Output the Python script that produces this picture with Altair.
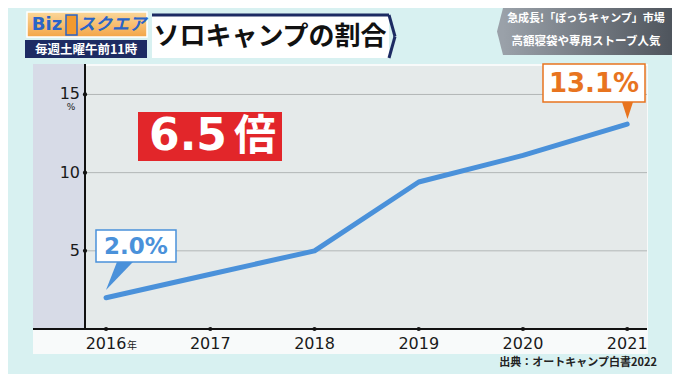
import altair as alt
import pandas as pd

# ---- data ----
years = [2016, 2017, 2018, 2019, 2020, 2021]
ratio = [2.0, 3.5, 5.0, 9.4, 11.1, 13.1]
y_ticks = [5, 10, 15]
year_suffix = "年"
y_unit = "%"
title_text = "ソロキャンプの割合"
multiple_text = "6.5"
multiple_suffix = "倍"
logo_a = "Biz"
logo_b = "スクエア"
schedule_text = "毎週土曜午前11時"
headline_1 = "急成長!「ぼっちキャンプ」市場"
headline_2 = "高額寝袋や専用ストーブ人気"
source_text = "出典：オートキャンプ白書2022"

# ---- layout (page pixel helpers) ----
PL, PT = 85, 66
W, H = 562, 263


def X(px):
    return px - PL


def Y(py):
    return py - PT


JP = "Noto Sans CJK JP"
NUM = "DejaVu Sans"
BLUE = "#4a91da"
ORANGE = "#e8741f"
NAVY = "#1d2b63"

one = pd.DataFrame({"k": [0]})


def box(x1, y1, x2, y2, **kw):
    return alt.Chart(one).mark_rect(**kw).encode(
        x=alt.value(X(x1)), x2=alt.value(X(x2)),
        y=alt.value(Y(y1)), y2=alt.value(Y(y2)))


def label(txt, px, py, **kw):
    return alt.Chart(one).mark_text(text=txt, baseline="middle", **kw).encode(
        x=alt.value(X(px)), y=alt.value(Y(py)))


def seg(x1, y1, x2, y2, **kw):
    return alt.Chart(one).mark_rule(**kw).encode(
        x=alt.value(X(x1)), x2=alt.value(X(x2)),
        y=alt.value(Y(y1)), y2=alt.value(Y(y2)))


def tri(path, cx, cy, size, color):
    return alt.Chart(one).mark_point(shape=path, filled=True, size=size,
                                     color=color, opacity=1, strokeWidth=0).encode(
        x=alt.value(X(cx)), y=alt.value(Y(cy)))


df = pd.DataFrame({"year": years, "ratio": ratio})
df_y = pd.DataFrame({"ratio": y_ticks})

xs = alt.X("year:Q", scale=alt.Scale(domain=[2015.798, 2021.19], nice=False, zero=False), axis=None)
ys = alt.Y("ratio:Q", scale=alt.Scale(domain=[0, 16.82], nice=False, zero=True), axis=None)

# background panels
card = box(33, 64, 648, 354, fill="#f8fafa")
band = box(33, 64, PL, 329, fill="#d7dbe7")
plotbg = box(PL, PT, 647, 329, fill="#e5eaea")

grid = alt.Chart(df_y).mark_rule(color="#b2b6b6", strokeWidth=1).encode(
    y=ys, x=alt.value(0), x2=alt.value(W))

yaxis = seg(PL, 64, PL, 329, color="#111", strokeWidth=2)
xaxis = alt.Chart(one).mark_rule(color="#111", strokeWidth=2).encode(
    x=alt.value(X(33)), x2=alt.value(X(647)), y=alt.value(H))

ydots = alt.Chart(df_y).mark_circle(size=18, color="#111", opacity=1).encode(
    y=ys, x=alt.value(0))
xdots = alt.Chart(df).mark_circle(size=18, color="#111", opacity=1).encode(
    x=xs, y=alt.value(H))

ylabels = alt.Chart(df_y).mark_text(align="right", baseline="middle", font=NUM,
                                    fontSize=16, color="#1a1a1a").encode(
    y=ys, x=alt.value(-5), text=alt.Text("ratio:Q", format="d"))
yunit = label(y_unit, 71, 107, font=NUM, fontSize=9, color="#1a1a1a")

xlabels = alt.Chart(df).mark_text(align="center", baseline="middle", font=NUM,
                                  fontSize=16, color="#1a1a1a").encode(
    x=xs, y=alt.value(H + 15), text=alt.Text("year:Q", format="d"))
xsuffix = alt.Chart(df.iloc[:1]).mark_text(align="center", baseline="middle", font=JP,
                                          fontSize=10, color="#1a1a1a", dx=26, dy=2).encode(
    x=xs, y=alt.value(H + 15), text=alt.value(year_suffix))

line = alt.Chart(df).mark_line(color=BLUE, strokeWidth=5, strokeCap="round",
                               strokeJoin="round").encode(x=xs, y=ys)

# annotations
redbox = box(138, 112, 282, 161, fill="#e2262a")
red_a = label(multiple_text, 188, 137, font=NUM, fontSize=44, fontWeight="bold", color="white")
red_b = label(multiple_suffix, 255, 137, font=JP, fontSize=42, fontWeight="bold", color="white")

bbox = box(96, 230, 176, 262, fill="white", stroke=BLUE, strokeWidth=1.5)
btri = tri("M -0.19 -0.875 L 0.81 -0.875 L -0.875 0.875 Z", 120, 276, 1024, BLUE)
btxt = label(f"{ratio[0]:.1f}%", 136, 247, font=NUM, fontSize=23, fontWeight="bold", color=BLUE)

obox = box(543, 64, 645, 102, fill="white", stroke=ORANGE, strokeWidth=1.5)
otri = tri("M -0.65 -1 L 0.65 -1 L 0 1 Z", 627.5, 110.5, 289, ORANGE)
otxt = label(f"{ratio[-1]:.1f}%", 594, 84, font=NUM, fontSize=26, fontWeight="bold", color=ORANGE)

src = label(source_text, 657, 363, align="right", font=JP, fontSize=11,
            fontWeight="bold", color="#222")

# header: right headline box
grey_grad = alt.LinearGradient(
    gradient="linear", x1=0, x2=1, y1=0, y2=0,
    stops=[alt.GradientStop(color="#9aa1a9", offset=0),
           alt.GradientStop(color="#4b5159", offset=1)])
hbox = box(503, 8, 680, 55, fill=grey_grad)
htri = tri("M 1 -1 L 0.745 0 L 1 1 Z", 479.5, 31.5, 2209, "#9aa1a9")
h1 = label(headline_1, 586, 19, font=JP, fontSize=11, fontWeight="bold", color="white")
h2 = label(headline_2, 586, 42, font=JP, fontSize=11.5, fontWeight="bold", color="white")

# header: title
tbox = box(152, 15, 389, 58, fill="white")
ttop = seg(152, 15, 389, 15, color=NAVY, strokeWidth=3)
tch1 = seg(389, 15, 395, 36.5, color=NAVY, strokeWidth=3)
tch2 = seg(395, 36.5, 389, 58, color=NAVY, strokeWidth=3)
ttxt = label(title_text, 270, 37, font=JP, fontSize=26, fontWeight="bold", color="#111")

# header: logo
orange_grad = alt.LinearGradient(
    gradient="linear", x1=0, x2=0, y1=0, y2=1,
    stops=[alt.GradientStop(color="#fbd79a", offset=0),
           alt.GradientStop(color="#f3a548", offset=1)])
lbox = box(27, 12, 147, 37, fill=orange_grad, stroke="white", strokeWidth=1.5)
lbld = box(66, 15, 77, 35, fill="#f39a2e", stroke="#2a64c8", strokeWidth=1.5)
la = label(logo_a, 47, 25, font=NUM, fontSize=18, fontWeight="bold", color="#2a64c8")
lb = label(logo_b, 112, 25, font=JP, fontSize=17, fontWeight="bold", color="#2a64c8",
           fontStyle="italic")
sbox = box(25, 40, 147, 58, fill=NAVY)
stxt = label(schedule_text, 86, 49.5, font=JP, fontSize=12.5, fontWeight="bold", color="white")

chart = alt.layer(
    card, band, plotbg, grid, yaxis, xaxis, ydots, xdots, ylabels, yunit,
    xlabels, xsuffix, line, redbox, red_a, red_b, bbox, btri, btxt,
    obox, otri, otxt, src, hbox, htri, h1, h2, tbox, ttop, tch1, tch2, ttxt,
    lbox, lbld, la, lb, sbox, stxt
).properties(
    width=W, height=H,
    padding={"left": 77, "top": 58, "right": 25, "bottom": 45},
    autosize=alt.AutoSizeParams(type="none"),
).configure_view(strokeWidth=0).configure(background="#d8f1f1")

chart.save("out.html", embed_options={"renderer": "svg", "actions": False})
